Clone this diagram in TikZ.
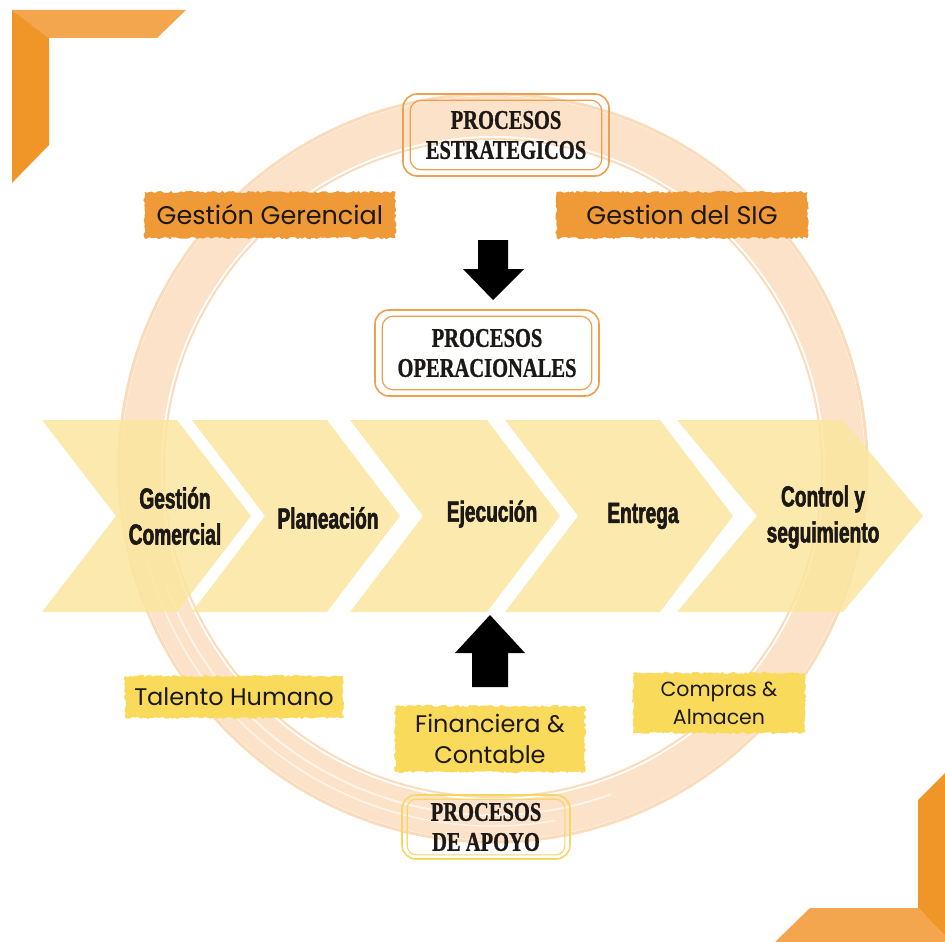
\documentclass[tikz,border=0pt]{standalone}
\usepackage{fontspec}
\usetikzlibrary{decorations.pathmorphing}
\newfontfamily\labfont{Poppins}
\newfontfamily\headfont[FakeStretch=0.76,BoldFeatures={FakeStretch=0.76,FakeBold=0.8}]{Liberation Serif}
\newfontfamily\chevfont[FakeStretch=0.66,BoldFeatures={FakeStretch=0.66,FakeBold=2}]{Liberation Sans}
\definecolor{cornerL}{RGB}{244,166,78}
\definecolor{cornerD}{RGB}{240,150,40}
\definecolor{ringc}{RGB}{246,176,104}
\definecolor{chevc}{RGB}{252,230,160}
\definecolor{orangeL}{RGB}{240,154,55}
\definecolor{yellowL}{RGB}{250,218,90}
\definecolor{headb}{RGB}{238,160,80}
\definecolor{apoyob}{RGB}{248,214,100}
\definecolor{txt}{RGB}{28,24,22}
\tikzset{
  rough/.style={decorate,decoration={random steps,segment length=2.5pt,amplitude=1.2pt}},
  obox/.style={rough,fill=orangeL,inner sep=0pt,text=txt,font=\labfont\fontsize{25.5}{30}\selectfont},
  ybox/.style={rough,fill=yellowL,inner sep=0pt,text=txt,align=center,font=\labfont\fontsize{24}{31}\selectfont},
  headbox/.style={rounded corners=14pt,draw=headb,line width=1.6pt,inner sep=0pt,text=txt,align=center,
    font=\headfont\bfseries\fontsize{27}{30}\selectfont},
  chevtext/.style={text=txt,align=center,font=\chevfont\bfseries\fontsize{29}{36}\selectfont},
}
\begin{document}
\begin{tikzpicture}[x=1pt,y=-1pt]
\useasboundingbox (0,0) rectangle (945,942);
\fill[white] (0,0) rectangle (945,942);
% corners
\fill[cornerL] (12,10) -- (186,10) -- (157,38) -- (49,38) -- cycle;
\fill[cornerD] (12,10) -- (49,38) -- (49,145) -- (12,183) -- cycle;
\fill[cornerD] (918,800) -- (945,773) -- (945,936) -- (918,908) -- cycle;
\fill[cornerL] (810,908) -- (918,908) -- (945,936) -- (945,942) -- (775,942) -- cycle;
% ring
\draw[ringc,line width=40pt,opacity=0.36] (493,468) circle (352pt);
\draw[ringc,line width=3pt,opacity=0.45] (493,468) circle (374pt);
\draw[ringc,line width=2pt,opacity=0.45] (493,468) circle (329pt);
\draw[white,line width=2pt,opacity=0.6] (493,468) ++(200:347pt) arc[start angle=200,end angle=290,radius=347pt];
\draw[white,line width=1.5pt,opacity=0.6] (493,468) ++(195:358pt) arc[start angle=195,end angle=280,radius=358pt];
% chevrons
\foreach \L/\R/\T in {42/177/74,192/327/73,350/487/73,505/660/73,677/843/80}{
  \fill[chevc,fill opacity=0.85] (\L,420) -- (\R,420) -- (\R+\T,516) -- (\R,612) -- (\L,612) -- (\L+\T,516) -- cycle;
}
\node[chevtext] (c1) at (175,516) {Gestión\\Comercial};
\node[chevtext] (c2) at (328,518) {Planeación};
\node[chevtext] (c3) at (492,514) {Ejecución};
\node[chevtext] (c4) at (643,516) {Entrega};
\node[chevtext] (c5) at (823,517) {Control y\\seguimiento};
% heading boxes
\node[headbox,minimum width=206pt,minimum height=82pt] (pe) at (506,135) {PROCESOS\\ESTRATEGICOS};
\draw[headb,line width=1.2pt,rounded corners=11pt] ([xshift=8pt,yshift=-7pt]pe.north west) rectangle ([xshift=-8pt,yshift=7pt]pe.south east);
\node[headbox,minimum width=224pt,minimum height=86pt] (po) at (487,353) {PROCESOS\\OPERACIONALES};
\draw[headb,line width=1.2pt,rounded corners=11pt] ([xshift=8pt,yshift=-7pt]po.north west) rectangle ([xshift=-8pt,yshift=7pt]po.south east);
\node[headbox,draw=apoyob,minimum width=168pt,minimum height=64pt] (pa) at (486,827) {PROCESOS\\DE APOYO};
\draw[apoyob,line width=1.1pt,rounded corners=9pt] ([xshift=6pt,yshift=-5pt]pa.north west) rectangle ([xshift=-6pt,yshift=5pt]pa.south east);
% orange labels
\node[obox,minimum width=251pt,minimum height=46pt] (gg) at (270,215) {Gestión Gerencial};
\node[obox,minimum width=251pt,minimum height=46pt] (gs) at (682,215) {Gestion del SIG};
% yellow labels
\node[ybox,minimum width=218pt,minimum height=42pt] (th) at (234,697) {Talento Humano};
\node[ybox,minimum width=190pt,minimum height=66pt] (fc) at (490,739) {Financiera \&\\Contable};
\node[ybox,minimum width=172pt,minimum height=60pt,font=\labfont\fontsize{20.5}{28}\selectfont] (ca) at (719,703) {Compras \&\\Almacen};
% block arrows
\fill[black] (478,240) -- (508,240) -- (508,269) -- (524,269) -- (493,300) -- (463,269) -- (478,269) -- cycle;
\fill[black] (472,687) -- (508,687) -- (508,653) -- (525,653) -- (490,615) -- (455,653) -- (472,653) -- cycle;
\end{tikzpicture}
\end{document}
